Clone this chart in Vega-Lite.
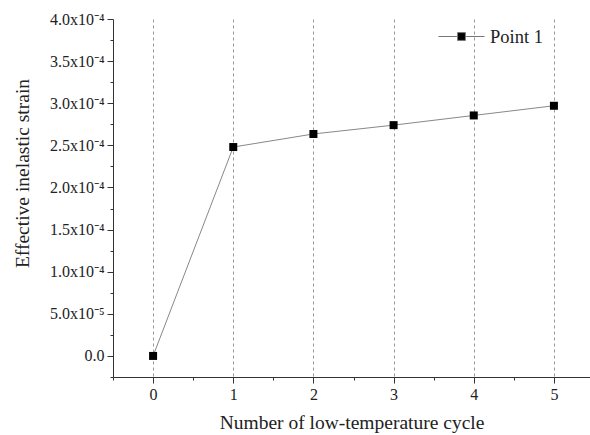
{
  "$schema": "https://vega.github.io/schema/vega-lite/v6.json",
  "width": 477,
  "height": 358,
  "autosize": {"type": "none"},
  "padding": {"left": 113, "top": 19, "right": 0, "bottom": 58},
  "background": "white",
  "config": {
    "view": {"stroke": null},
    "font": "Liberation Serif",
    "axis": {"labelFont": "Liberation Serif", "titleFont": "Liberation Serif", "labelColor": "#222", "titleColor": "#222", "domainColor": "#333", "tickColor": "#333", "titleFontWeight": "normal"}
  },
  "data": {
    "values": [
      {"cycle": 0, "strain": 0.0, "series": "Point 1"},
      {"cycle": 1, "strain": 0.000248, "series": "Point 1"},
      {"cycle": 2, "strain": 0.0002635, "series": "Point 1"},
      {"cycle": 3, "strain": 0.000274, "series": "Point 1"},
      {"cycle": 4, "strain": 0.0002855, "series": "Point 1"},
      {"cycle": 5, "strain": 0.000297, "series": "Point 1"}
    ]
  },
  "layer": [
    {
      "mark": {"type": "line", "color": "#888", "strokeWidth": 1},
      "encoding": {
        "x": {
          "field": "cycle", "type": "quantitative",
          "scale": {"domain": [-0.5, 5.45], "nice": false, "zero": false},
          "axis": {
            "orient": "bottom", "values": [0, 1, 2, 3, 4, 5], "format": "d",
            "title": "Number of low-temperature cycle",
            "labelFontSize": 16, "titleFontSize": 19.5, "titlePadding": 11,
            "tickSize": 6, "labelPadding": 3,
            "grid": true, "gridDash": [3, 3], "gridColor": "#999", "gridWidth": 1
          }
        },
        "y": {
          "field": "strain", "type": "quantitative",
          "scale": {"domain": [-0.000025, 0.0004], "nice": false, "zero": false},
          "axis": {
            "orient": "left",
            "values": [0, 0.00005, 0.0001, 0.00015, 0.0002, 0.00025, 0.0003, 0.00035, 0.0004],
            "labelExpr": "datum.value == 0 ? '0.0' : (datum.value < 0.00009 ? format(datum.value * 100000, '.1f') + 'x10⁻⁵' : format(datum.value * 10000, '.1f') + 'x10⁻⁴')",
            "title": "Effective inelastic strain",
            "labelFontSize": 16, "titleFontSize": 19.5, "titlePadding": 17, "titleY": 154,
            "tickSize": 6, "labelPadding": 3, "grid": false
          }
        }
      }
    },
    {
      "mark": {"type": "point", "shape": "square", "filled": true, "size": 64, "opacity": 1},
      "encoding": {
        "x": {
          "field": "cycle", "type": "quantitative",
          "axis": {
            "orient": "bottom", "values": [-0.5, 0.5, 1.5, 2.5, 3.5, 4.5],
            "labels": false, "title": null, "domain": false, "grid": false, "tickSize": 3
          }
        },
        "y": {
          "field": "strain", "type": "quantitative",
          "axis": {
            "orient": "left",
            "values": [-0.000025, 0.000025, 0.000075, 0.000125, 0.000175, 0.000225, 0.000275, 0.000325, 0.000375],
            "labels": false, "title": null, "domain": false, "grid": false, "tickSize": 3
          }
        },
        "color": {
          "field": "series", "type": "nominal",
          "scale": {"range": ["black"]},
          "legend": {
            "title": null, "orient": "none", "legendX": 325, "legendY": -6,
            "padding": 0,
            "symbolType": "M-1,0H-0.2M0.2,0H1M-0.17,-0.17H0.17V0.17H-0.17Z",
            "symbolSize": 2116, "symbolStrokeColor": "#777", "symbolStrokeWidth": 1,
            "symbolFillColor": "black",
            "labelFont": "Liberation Serif", "labelFontSize": 18.5, "labelColor": "#222", "labelOffset": 5
          }
        }
      }
    }
  ],
  "resolve": {"axis": {"x": "independent", "y": "independent"}}
}
